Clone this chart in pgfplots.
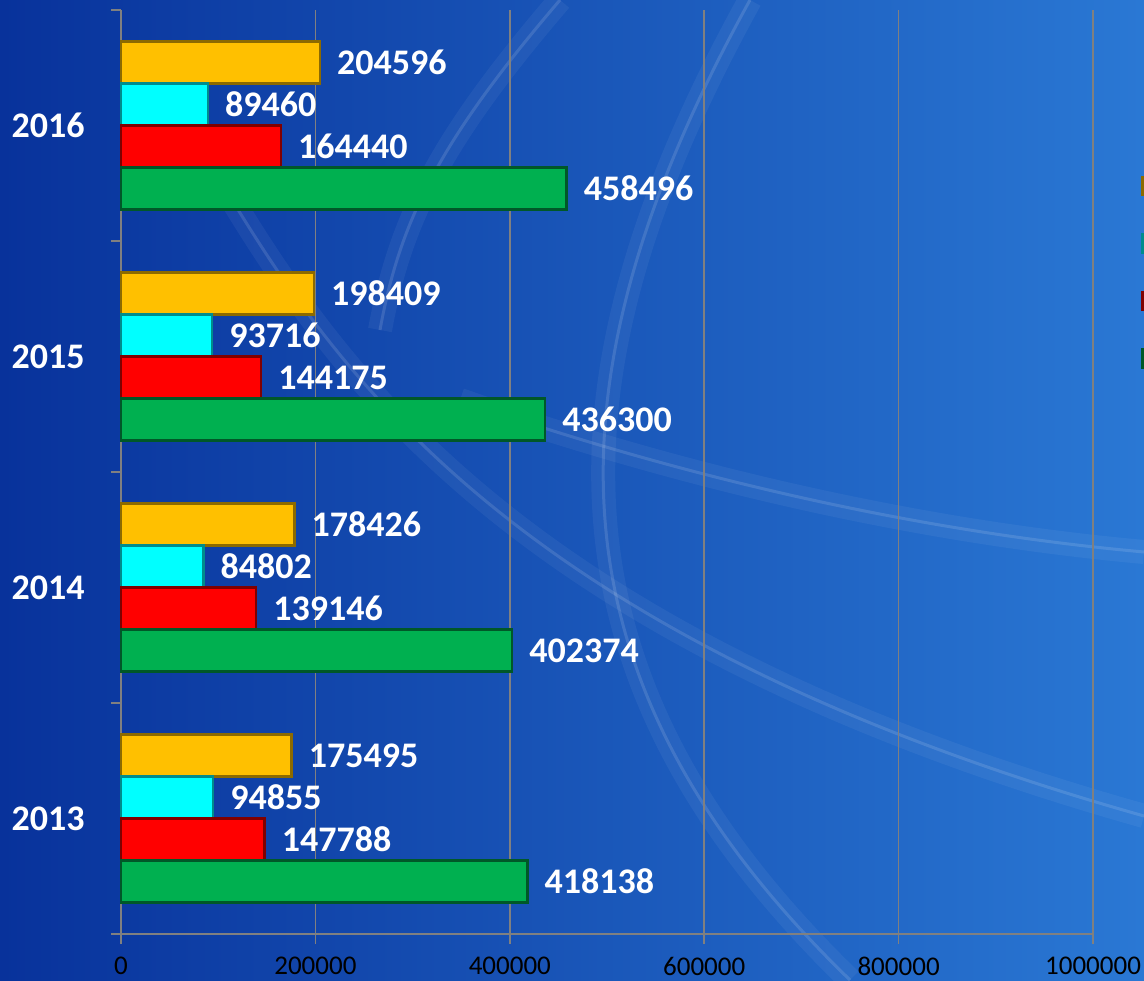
\documentclass[border=0pt]{standalone}
\usepackage{fontspec}
\setmainfont{Carlito}
\usepackage{pgfplots}
\pgfplotsset{compat=1.18}
\definecolor{bgdark}{RGB}{8,50,155}
\definecolor{bglight}{RGB}{42,120,212}
\definecolor{cOrange}{RGB}{255,192,0}
\definecolor{cCyan}{RGB}{0,255,255}
\definecolor{cRed}{RGB}{255,0,0}
\definecolor{cGreen}{RGB}{0,176,80}
\definecolor{gridgray}{RGB}{128,128,128}
\tikzset{swoosh/.style={white, opacity=0.05, line width=12pt},
         swooshcore/.style={white, opacity=0.12, line width=1.5pt}}
\begin{document}
\begin{tikzpicture}
\begin{scope}
\clip (0,0) rectangle (572pt,490pt);
\shade[left color=bgdark, right color=bglight] (0,0) rectangle (572pt,490pt);
% decorative background swooshes
\foreach \s in {swoosh,swooshcore}{
  \draw[\s] (110pt,400pt) .. controls (170pt,300pt) and (260pt,170pt) .. (572pt,82pt);
  \draw[\s] (230pt,290pt) .. controls (330pt,255pt) and (450pt,225pt) .. (572pt,214pt);
  \draw[\s] (375pt,490pt) .. controls (270pt,300pt) and (270pt,150pt) .. (425pt,0pt);
  \draw[\s] (280pt,490pt) .. controls (220pt,420pt) and (200pt,380pt) .. (190pt,325pt);
}
\begin{axis}[
  at={(60.5pt,23pt)}, anchor=south west,
  scale only axis, width=486pt, height=462pt,
  xbar, bar width=21pt,
  xmin=0, xmax=1000000, ymin=-0.5, ymax=3.5,
  axis x line*=bottom, axis y line*=left,
  axis line style={draw=gridgray, line width=0.8pt, -},
  xtick={0,200000,400000,600000,800000,1000000},
  scaled x ticks=false,
  xticklabel style={/pgf/number format/fixed, /pgf/number format/1000 sep={}, /pgf/number format/assume math mode=true, font=\fontsize{13.5}{16}\selectfont, text=black, inner sep=0pt, yshift=-6.5pt},
  xmajorgrids, grid style={draw=gridgray, line width=0.8pt},
  tick style={draw=gridgray, line width=0.8pt},
  tick align=outside, major tick length=5pt,
  ytick={-0.5,0.5,1.5,2.5,3.5}, yticklabels={},
  extra y ticks={0,1,2,3}, extra y tick labels={2013,2014,2015,2016},
  extra y tick style={major tick length=0pt, yticklabel style={font=\bfseries\fontsize{18}{20}\selectfont, text=white, inner sep=0pt, xshift=-18pt}},
  point meta=explicit symbolic,
  nodes near coords,
  nodes near coords style={font=\bfseries\fontsize{18}{20}\selectfont, text=white, anchor=west, inner sep=0pt, xshift=8pt},
  legend style={at={(1.0494,0.8245)}, anchor=north west, draw=none, fill=none, inner sep=0pt, row sep=15.6pt, font=\fontsize{18}{20}\selectfont, nodes={inner sep=0pt}},
  legend image code/.code={\draw[#1] (0pt,-4.5pt) rectangle (9pt,4.5pt);},
  clip=false,
]
\addplot[fill=cOrange, draw=cOrange!55!black, line width=1.2pt, bar shift=31.5pt] coordinates {(175495,0) [175495] (178426,1) [178426] (198409,2) [198409] (204596,3) [204596]};
\addlegendentry{\phantom{0}}
\addplot[fill=cCyan, draw=cCyan!55!black, line width=1.2pt, bar shift=10.5pt] coordinates {(94855,0) [94855] (84802,1) [84802] (93716,2) [93716] (89460,3) [89460]};
\addlegendentry{\phantom{0}}
\addplot[fill=cRed, draw=cRed!50!black, line width=1.2pt, bar shift=-10.5pt] coordinates {(147788,0) [147788] (139146,1) [139146] (144175,2) [144175] (164440,3) [164440]};
\addlegendentry{\phantom{0}}
\addplot[fill=cGreen, draw=cGreen!50!black, line width=1.2pt, bar shift=-31.5pt] coordinates {(418138,0) [418138] (402374,1) [402374] (436300,2) [436300] (458496,3) [458496]};
\addlegendentry{\phantom{0}}
\end{axis}
\end{scope}
\pgfresetboundingbox
\useasboundingbox (0,0) rectangle (572pt,490pt);
\end{tikzpicture}
\end{document}
